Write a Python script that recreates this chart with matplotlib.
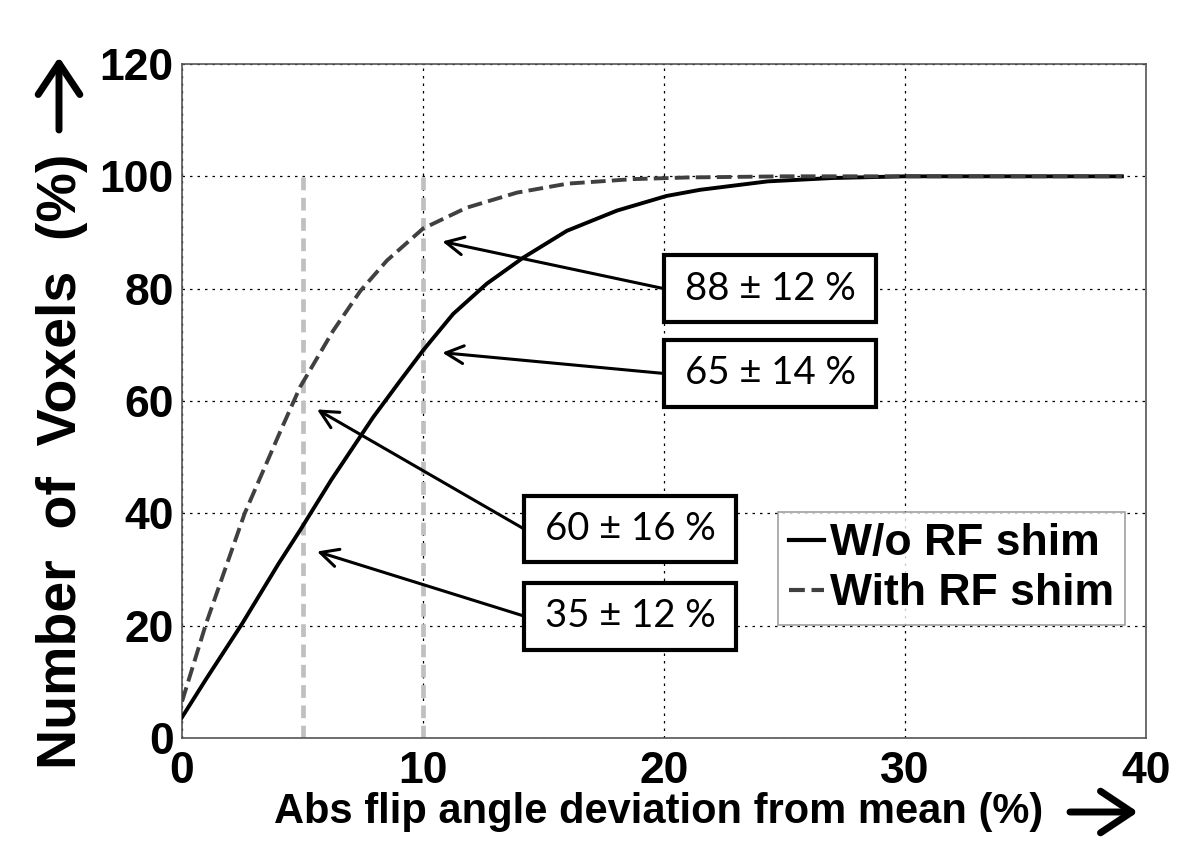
import matplotlib.pyplot as plt
from matplotlib.patches import Rectangle, FancyArrowPatch

# cumulative % of voxels vs abs flip angle deviation
x_wo = [0, 1, 2.5, 4, 4.9, 6.2, 7.93, 9.05, 10, 11.25, 12.65, 14.15, 15.97, 18.05, 20.1, 21.5,
        24.3, 27, 30, 35, 39]
y_wo = [3.7, 10.5, 20.4, 31, 37, 46, 57.1, 63.6, 69, 75.5, 80.9, 85.5, 90.3, 93.9, 96.5, 97.6,
        99.1, 99.7, 100, 100, 100]

x_with = [0, 1, 2.6, 4.1, 4.9, 6.27, 7.4, 8.5, 10, 11.8, 13.9, 16, 18.7, 21, 25, 30, 39]
y_with = [6.5, 20.4, 40, 54.8, 62.5, 72.5, 79.6, 85, 90.7, 94.4, 97.1, 98.7, 99.5, 99.8, 100, 100, 100]

ref_x = [5, 10]
ref_top = 100

labels = ["88 \u00b1 12 %", "65 \u00b1 14 %", "60 \u00b1 16 %", "35 \u00b1 12 %"]
targets = [(10.8, 88.4), (10.8, 68.6), (5.6, 58.5), (5.6, 33.2)]
box_centers = [(24.4, 80.0), (24.4, 64.9), (18.6, 37.2), (18.6, 21.7)]

bold_sans = ['Liberation Sans', 'DejaVu Sans']

fig = plt.figure(figsize=(12, 8.52), dpi=100)
ax = fig.add_axes([0.1517, 0.1338, 0.8033, 0.7911])

for xv in ref_x:
    ax.plot([xv, xv], [0, ref_top], color='#c0c0c0', lw=3.4, ls=(0, (2.7, 1.6)), zorder=2)

ax.plot(x_wo, y_wo, color='black', lw=2.8, label='W/o RF shim', zorder=3)
ax.plot(x_with, y_with, color='#404040', lw=2.8, ls=(0, (3.8, 1.6)), label='With RF shim', zorder=3)

ax.set_xlim(0, 40)
ax.set_ylim(0, 120)
ax.set_xticks([0, 10, 20, 30, 40])
ax.set_yticks([0, 20, 40, 60, 80, 100, 120])
ax.grid(True, color='black', ls=(0, (2, 4)), lw=0.9)
ax.tick_params(length=0)
ax.tick_params(axis='x', pad=9)
ax.tick_params(axis='y', pad=6)
for lab in ax.get_xticklabels() + ax.get_yticklabels():
    lab.set_family(bold_sans)
    lab.set_fontweight('bold')
    lab.set_fontsize(32)
for s in ax.spines.values():
    s.set_color('#555555')
    s.set_linewidth(1.2)

# annotation boxes with arrows
bw, bh = 8.8, 11.9
for lab, (tx, ty), (cx, cy) in zip(labels, targets, box_centers):
    ax.add_patch(Rectangle((cx - bw / 2, cy - bh / 2), bw, bh, fill=True, fc='white',
                           ec='black', lw=3, zorder=5))
    ax.text(cx, cy, lab, ha='center', va='center', fontsize=27.5, family='Lato', zorder=6)
    ax.annotate('', xy=(tx, ty), xytext=(cx - bw / 2, cy),
                arrowprops=dict(arrowstyle='->', color='black', lw=2.2, mutation_scale=32,
                                shrinkA=0, shrinkB=0), zorder=4)

leg = ax.legend(loc='upper left', bbox_to_anchor=(0.618, 0.335), frameon=True, fancybox=False,
                prop={'family': bold_sans, 'weight': 'bold', 'size': 32},
                handlelength=0.8, handletextpad=0.12, borderpad=0.25, labelspacing=0.2,
                borderaxespad=0)
leg.get_frame().set_edgecolor('#888888')
leg.get_frame().set_linewidth(1.2)
for h in leg.get_lines():
    h.set_linewidth(3)

fig.text(0.052, 0.459, "Number  of  Voxels  (%)", rotation=90, ha='center', va='center',
         fontsize=40, fontweight='bold', family=bold_sans)
fig.text(0.549, 0.047, "Abs flip angle deviation from mean (%)", ha='center', va='center',
         fontsize=30, fontweight='bold', family=bold_sans)

# axis direction arrows
W, H = 1200, 852
arrow_kw = dict(arrowstyle='->, head_length=0.45, head_width=0.3', color='black', lw=5,
                mutation_scale=50, shrinkA=0, shrinkB=0, capstyle='round', joinstyle='round')
fig.add_artist(FancyArrowPatch((59 / W, 1 - 130 / H), (59 / W, 1 - 57 / H),
                               transform=fig.transFigure, **arrow_kw))
fig.add_artist(FancyArrowPatch((1070 / W, 1 - 812 / H), (1138 / W, 1 - 812 / H),
                               transform=fig.transFigure, **arrow_kw))

fig.savefig('out.png', dpi=100)
